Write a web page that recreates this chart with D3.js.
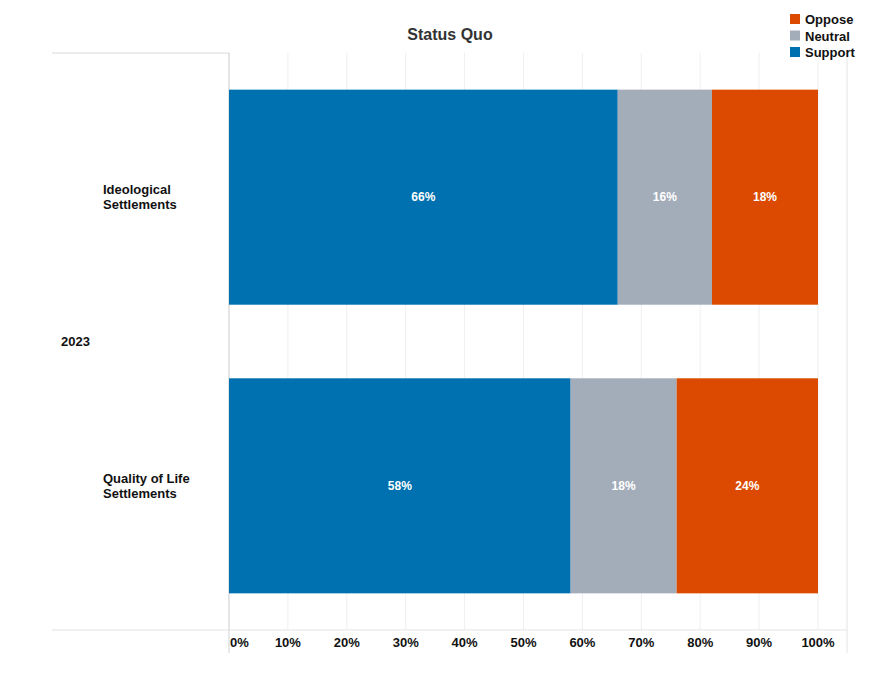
<!DOCTYPE html>
<html>
<head>
<meta charset="utf-8"/>
<script src="https://d3js.org/d3.v7.min.js"></script>
<style>
  body { margin: 0; background: #fff; }
  text { font-family: "Liberation Sans", Arial, sans-serif; font-weight: bold; }
</style>
</head>
<body>
<svg id="chart" width="879" height="679"></svg>
<script>
// data
let categories = ["Ideological Settlements", "Quality of Life Settlements"];
let catLines = [["Ideological", "Settlements"], ["Quality of Life", "Settlements"]];
let groupLabel = "2023";
let seriesNames = ["Support", "Neutral", "Oppose"];
let support = [66, 58];
let neutral = [16, 18];
let oppose = [18, 24];
let tickValues = [0, 10, 20, 30, 40, 50, 60, 70, 80, 90, 100];
let colors = {"Support": "#0071b0", "Neutral": "#a3adba", "Oppose": "#db4a00"};

let svg = d3.select("#chart");
let plotTop = 53, plotBottom = 630, plotLeft = 229, plotRight = 847;

let x = d3.scaleLinear().domain([0, 100]).range([plotLeft, 818]);
let y = d3.scaleBand().domain(categories).range([plotTop, plotBottom]).paddingInner(0.255).paddingOuter(0.127);

// gridlines
svg.selectAll(".grid").data(tickValues).enter().append("line")
    .attr("x1", d => x(d)).attr("x2", d => x(d))
    .attr("y1", plotTop).attr("y2", plotBottom)
    .style("stroke", "#efefef").style("stroke-width", 1);
svg.append("line").attr("x1", plotRight).attr("x2", plotRight).attr("y1", plotTop).attr("y2", 653)
    .style("stroke", "#e4e4e4");

// frame lines
svg.append("line").attr("x1", 52).attr("x2", plotLeft).attr("y1", plotTop).attr("y2", plotTop)
    .style("stroke", "#d9d9d9").style("stroke-width", 1.2);
svg.append("line").attr("x1", plotLeft).attr("x2", plotLeft).attr("y1", plotTop).attr("y2", 653)
    .style("stroke", "#d9d9d9").style("stroke-width", 1.2);
svg.append("line").attr("x1", 52).attr("x2", plotRight).attr("y1", plotBottom).attr("y2", plotBottom)
    .style("stroke", "#e4e4e4").style("stroke-width", 1.2);

// stacked bars
let rows = categories.map((c, i) => ({cat: c, Support: support[i], Neutral: neutral[i], Oppose: oppose[i]}));
let stack = d3.stack().keys(seriesNames)(rows);

let layers = svg.selectAll(".layer").data(stack).enter().append("g")
    .attr("fill", d => colors[d.key]);
layers.selectAll("rect").data(d => d).enter().append("rect")
    .attr("x", d => x(d[0]))
    .attr("width", d => x(d[1]) - x(d[0]))
    .attr("y", d => y(d.data.cat))
    .attr("height", y.bandwidth());
layers.selectAll(".lbl").data(d => d).enter().append("text")
    .attr("x", d => (x(d[0]) + x(d[1])) / 2)
    .attr("y", d => y(d.data.cat) + y.bandwidth() / 2 + 4)
    .attr("text-anchor", "middle")
    .style("fill", "#fff").style("font-size", "12px")
    .text(d => (d[1] - d[0]) + "%");

// x tick labels (first one starts at the axis, others centred)
svg.selectAll(".tick").data(tickValues).enter().append("text")
    .attr("x", d => d == 0 ? x(d) + 1 : x(d))
    .attr("y", 647)
    .attr("text-anchor", d => d == 0 ? "start" : "middle")
    .style("font-size", "13px").style("fill", "#111")
    .text(d => d + "%");

// category labels
categories.forEach((c, i) => {
    let t = svg.append("text").attr("x", 103)
        .attr("y", y(c) + y.bandwidth() / 2 - 3)
        .style("font-size", "13px").style("fill", "#111");
    catLines[i].forEach((line, j) => {
        t.append("tspan").attr("x", 103).attr("dy", j == 0 ? 0 : 15).text(line);
    });
});
svg.append("text").attr("x", 61).attr("y", 346)
    .style("font-size", "13px").style("fill", "#111").text(groupLabel);

// title
svg.append("text").attr("x", 450).attr("y", 40).attr("text-anchor", "middle")
    .style("font-size", "16px").style("fill", "#333").text("Status Quo");

// legend
let legendOrder = ["Oppose", "Neutral", "Support"];
legendOrder.forEach((k, i) => {
    svg.append("rect").attr("x", 790).attr("y", 14 + i * 16.5)
        .attr("width", 10).attr("height", 10).attr("fill", colors[k]);
    svg.append("text").attr("x", 805).attr("y", 24 + i * 16.5)
        .style("font-size", "13px").style("fill", "#111").text(k);
});
</script>
</body>
</html>
